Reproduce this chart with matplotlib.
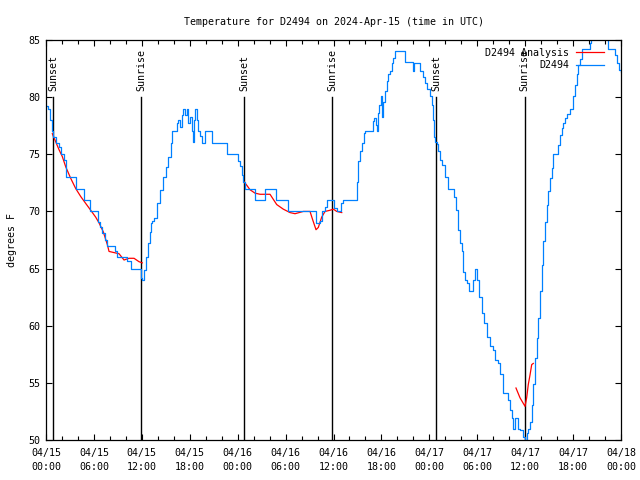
import matplotlib as mpl
mpl.use('Agg')
import matplotlib.pyplot as plt
from matplotlib.ticker import MultipleLocator

plt.rcParams['font.family'] = 'DejaVu Sans Mono'
plt.rcParams['font.size'] = 7.2

# hours since 04/15 00:00 UTC, degrees F
obs_hours = [0.13, 0.25, 0.5, 0.75, 0.88, 1.21, 1.63, 1.84, 2.25, 2.47, 3.79, 4.76, 5.47,
             6.51, 6.8, 7.01, 7.39, 7.68, 8.64, 8.85, 10.18, 10.61, 11.86, 12.02, 12.27,
             12.48, 12.77, 13.02, 13.15, 13.27, 13.52, 13.86, 14.28, 14.69, 15.03, 15.31,
             15.61, 15.82, 16.37, 16.57, 16.78, 16.99, 17.19, 17.41, 17.62, 17.82, 18.03,
             18.24, 18.44, 18.57, 18.66, 18.87, 19.07, 19.28, 19.50, 19.91, 20.75, 22.63,
             24.08, 24.29, 24.51, 24.71, 24.92, 26.17, 27.42, 28.80, 30.27, 33.77, 34.31,
             34.52, 34.94, 35.22, 36.06, 36.40, 36.94, 37.23, 38.91, 39.11, 39.32, 39.53,
             39.82, 39.94, 40.91, 41.11, 41.32, 41.41, 41.57, 41.74, 41.91, 42.07, 42.24,
             42.45, 42.66, 42.86, 43.08, 43.29, 43.49, 43.70, 44.95, 45.92, 46.08, 46.83,
             47.17, 47.46, 47.75, 48.08, 48.30, 48.45, 48.60, 48.71, 48.92, 49.12, 49.34,
             49.55, 49.96, 50.38, 51.09, 51.34, 51.63, 51.84, 52.05, 52.25, 52.47, 52.75,
             53.01, 53.51, 53.72, 53.97, 54.26, 54.56, 54.85, 55.18, 55.60, 55.97, 56.22,
             56.64, 56.85, 57.19, 57.89, 58.10, 58.31, 58.52, 58.73, 59.14, 59.35, 59.77,
             59.98, 60.19, 60.39, 60.61, 60.82, 61.02, 61.23, 61.44, 61.65, 61.86, 62.07,
             62.27, 62.48, 62.70, 62.90, 63.11, 63.32, 63.52, 64.15, 64.36, 64.58, 64.78,
             64.99, 65.28, 65.61, 66.03, 66.24, 66.45, 66.65, 66.87, 67.08, 68.12, 68.3,
             70.41, 71.25, 71.54, 71.79, 71.96]
obs_temp = [79.2, 79.0, 78.0, 77.0, 76.5, 76.0, 75.6, 75.0, 74.5, 73.0, 72.0, 71.0, 70.0,
            69.1, 68.6, 68.1, 67.5, 67.0, 66.5, 66.0, 65.7, 65.0, 64.2, 64.0, 64.9,
            66.0, 67.2, 68.2, 69.0, 69.2, 69.4, 70.7, 71.9, 73.0, 73.9, 74.8,
            76.0, 77.0, 77.7, 78.0, 77.4, 78.4, 79.0, 78.4, 79.0, 77.7, 78.3,
            77.0, 76.1, 78.0, 79.0, 78.0, 77.0, 76.6, 76.0, 77.0, 76.0, 75.0,
            74.4, 74.0, 73.2, 72.6, 72.0, 71.0, 72.0, 71.0, 70.0, 69.0, 69.2,
            70.0, 70.4, 71.0, 70.3, 70.0, 70.7, 71.0, 72.6, 74.4, 75.3, 76.0,
            76.9, 77.0, 77.9, 78.2, 77.6, 77.0, 78.6, 79.3, 80.1, 78.3, 79.6,
            80.5, 81.4, 82.0, 82.3, 83.0, 83.4, 84.0, 83.1, 82.3, 83.0, 82.3,
            81.8, 81.2, 80.7, 80.1, 79.3, 78.0, 76.5, 76.1, 75.9, 75.3, 74.5,
            74.1, 73.0, 72.0, 71.3, 70.1, 68.4, 67.2, 66.5, 64.7, 64.0, 63.7,
            63.0, 64.0, 65.0, 64.0, 62.5, 61.1, 60.2, 59.0, 58.2, 57.9, 57.0,
            56.7, 55.8, 54.1, 53.5, 52.6, 51.9, 51.0, 51.9, 51.0, 50.9, 50.3,
            50.0, 50.6, 51.0, 51.6, 53.1, 54.9, 57.2, 58.9, 60.7, 63.0, 65.3,
            67.4, 69.1, 70.6, 71.8, 72.9, 73.8, 75.0, 75.8, 76.7, 77.3, 77.7,
            78.2, 78.5, 79.0, 80.1, 81.1, 82.0, 82.8, 83.3, 84.2, 84.7, 86.0,
            84.2, 83.7, 83.0, 82.4, 82.2]

an1_hours = [0.79, 1.21, 1.63, 2.04, 2.47, 3.09, 3.72, 4.35, 4.97, 5.60, 6.22, 6.64, 7.18,
             7.68, 7.89, 8.51, 9.14, 9.77, 10.39, 11.02, 11.65, 12.06]
an1_temp = [76.8, 76.1, 75.4, 74.8, 73.9, 72.9, 72.0, 71.3, 70.7, 70.1, 69.5, 69.0, 68.2,
            67.1, 66.5, 66.4, 66.3, 65.75, 65.9, 65.9, 65.6, 65.5]
an2_hours = [24.79, 25.13, 25.54, 26.17, 26.80, 28.05, 28.46, 28.89, 29.71, 30.55, 31.18,
             32.22, 33.06, 33.40, 33.81, 34.10, 34.52, 34.94, 35.56, 35.98, 36.40, 37.03]
an2_temp = [72.6, 72.3, 71.9, 71.6, 71.5, 71.5, 71.06, 70.6, 70.2, 69.9, 69.8,
            70.0, 70.0, 69.25, 68.4, 68.6, 69.5, 70.0, 70.1, 70.2, 70.0, 69.9]
an3_hours = [58.85, 59.35, 59.98, 60.19, 60.39, 60.61, 60.82, 61.02]
an3_temp = [54.55, 53.7, 52.95, 53.7, 54.85, 55.7, 56.6, 56.7]

sun_hours = [0.92, 11.93, 24.83, 35.85, 48.88, 59.94]
sun_names = ['Sunset', 'Sunrise', 'Sunset', 'Sunrise', 'Sunset', 'Sunrise']

tick_hours = list(range(0, 73, 6))
tick_labels = ['04/15\n00:00', '04/15\n06:00', '04/15\n12:00', '04/15\n18:00',
               '04/16\n00:00', '04/16\n06:00', '04/16\n12:00', '04/16\n18:00',
               '04/17\n00:00', '04/17\n06:00', '04/17\n12:00', '04/17\n18:00',
               '04/18\n00:00']

fig = plt.figure(figsize=(6.4, 4.8), dpi=100)
ax = fig.add_axes([0.0719, 0.0833, 0.8984, 0.8334])

for h, name in zip(sun_hours, sun_names):
    ax.plot([h, h], [50, 80], color='black', lw=1.0)
    ax.text(h, 80.5, name, rotation=90, ha='center', va='bottom')

ax.plot(an1_hours, an1_temp, color='red', lw=0.9, label='D2494 Analysis')
ax.plot(an2_hours, an2_temp, color='red', lw=0.9)
ax.plot(an3_hours, an3_temp, color='red', lw=0.9)
ax.plot(obs_hours, obs_temp, color='#0080ff', lw=0.9, drawstyle='steps-post', label='D2494')

ax.set_xlim(0, 72)
ax.set_ylim(50, 85)
ax.set_xticks(tick_hours)
ax.set_xticklabels(tick_labels, linespacing=1.45)
ax.xaxis.set_minor_locator(MultipleLocator(2))
ax.set_yticks(range(50, 86, 5))
ax.tick_params(which='both', direction='in', top=True, right=True, width=0.8)
ax.tick_params(which='major', length=4.5)
ax.tick_params(which='minor', length=3)
ax.tick_params(axis='x', pad=6)
ax.tick_params(axis='y', pad=4)
for s in ax.spines.values():
    s.set_linewidth(0.9)

ax.set_ylabel('degrees F', labelpad=8)
ax.set_title('Temperature for D2494 on 2024-Apr-15 (time in UTC)', fontsize=7.2, pad=11)
ax.legend(loc='upper right', bbox_to_anchor=(0.985, 1.0), frameon=False, markerfirst=False,
          handlelength=2.8, handletextpad=0.7, labelspacing=0.25, borderpad=0.3)

plt.savefig('out.png')
